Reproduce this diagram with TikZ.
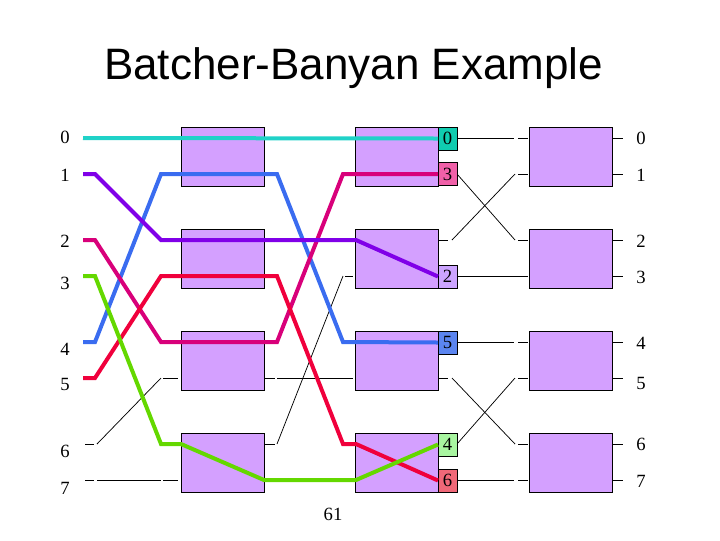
\documentclass[tikz,border=0pt]{standalone}
\usepackage{fontspec}
\setmainfont{Liberation Serif}
\newfontfamily\titlefont{Liberation Sans}
\definecolor{boxfill}{HTML}{D4A0FF}
\definecolor{cyanline}{HTML}{20D2C8}
\definecolor{purpleline}{HTML}{8000E8}
\definecolor{pinkline}{HTML}{D8007A}
\definecolor{greenline}{HTML}{64D800}
\definecolor{blueline}{HTML}{3A6CF0}
\definecolor{redline}{HTML}{F0003C}
\definecolor{labcyan}{HTML}{10CCB0}
\definecolor{labpink}{HTML}{F060A8}
\definecolor{labpurple}{HTML}{CCA4FF}
\definecolor{labblue}{HTML}{5B85F0}
\definecolor{labgreen}{HTML}{A8F5A0}
\definecolor{labred}{HTML}{F06878}
\begin{document}
\begin{tikzpicture}[x=0.75pt,y=-0.75pt,
  swbox/.style={draw=black, line width=0.75pt, fill=boxfill, minimum width=62.25pt, minimum height=44.25pt, inner sep=0pt, outer sep=0pt},
  tag/.style={draw=black, line width=0.75pt, minimum width=14.25pt, minimum height=17.25pt, inner sep=0pt, outer sep=0pt, font=\fontsize{14}{14}\selectfont},
  num/.style={inner sep=0pt, font=\fontsize{14}{14}\selectfont},
  route/.style={line width=3pt},
  wire/.style={line width=0.55pt}]
\useasboundingbox (0,0) rectangle (720,540);

\node[anchor=base, font=\titlefont\fontsize{33}{36}\selectfont] (title) at (353.5,79) {Batcher-Banyan Example};
\node[num] (page) at (333,514) {61};

% switch boxes
\foreach \c/\x in {1/222.5,2/397,3/571}{
  \foreach \r/\y in {1/156.5,2/258.5,3/360.5,4/462.5}{
    \node[swbox] (b\c\r) at (\x,\y) {};
  }
}

% input and output numbers
\foreach \i/\y in {0/137,1/175,2/241,3/283,4/349,5/384,6/451,7/488}{
  \node[num] (in\i) at (65,\y) {\i};
}
\foreach \i/\y in {0/138,1/175,2/241,3/277,4/343,5/383,6/444,7/481}{
  \node[num] (out\i) at (641,\y) {\i};
}

% start points of the coloured routes
\foreach \i/\y in {0/138,1/174,2/240,3/276,4/342,5/378}{
  \coordinate (s\i) at (83,\y);
}

% thin wires, stage 1 inputs
\draw[wire] (85,444) -- (94,444);
\draw[wire] (97,444) -- (161,378);
\draw[wire] (163,378) -- (178,378);
\draw[wire] (85,480) -- (94,480);
\draw[wire] (97,480) -- (161,480);
\draw[wire] (163,480) -- (178,480);
% stage 1 outputs
\draw[wire] (264,378) -- (275,378);
\draw[wire] (277,378) -- (353,378);
\draw[wire] (264,444) -- (275,444);
\draw[wire] (277,444) -- (343,276);
\draw[wire] (345,276) -- (353,276);
% stage 2 outputs
\draw[wire] (457,138) -- (514,138);
\draw[wire] (518,138) -- (528,138);
\draw[wire] (438,240) -- (448,240);
\draw[wire] (452,240) -- (515,174);
\draw[wire] (518,174) -- (528,174);
\draw[wire] (457,174) -- (515,240);
\draw[wire] (518,240) -- (528,240);
\draw[wire] (457,276) -- (528,276);
\draw[wire] (457,342) -- (514,342);
\draw[wire] (518,342) -- (528,342);
\draw[wire] (438,378) -- (448,378);
\draw[wire] (452,378) -- (515,444);
\draw[wire] (518,444) -- (528,444);
\draw[wire] (457,444) -- (515,378);
\draw[wire] (518,378) -- (528,378);
\draw[wire] (457,480) -- (514,480);
\draw[wire] (518,480) -- (528,480);
% stage 3 outputs
\foreach \y in {138,174,240,276,342,378,444,480}{
  \draw[wire] (613,\y) -- (623,\y);
}

% output tags of stage 2
\node[tag, fill=labcyan]   (t0) at (447.5,138.5) {0};
\node[tag, fill=labpink]   (t3) at (447.5,174)   {3};
\node[tag, fill=labpurple] (t2) at (447.5,276.5) {2};
\node[tag, fill=labblue]   (t5) at (447.5,342.5) {5};
\node[tag, fill=labgreen]  (t4) at (447.5,444.5) {4};
\node[tag, fill=labred]    (t6) at (447.5,480.5) {6};

% coloured routes
\draw[route, blueline]   (s4) -- (95,342) -- (161,174) -- (277,174) -- (343,342) -- (t5.west);
\draw[route, pinkline]   (s2) -- (95,240) -- (161,342) -- (277,342) -- (343,174) -- (t3.west);
\draw[route, purpleline] (s1) -- (95,174) -- (161,240) -- (356,240) -- (t2.west);
\draw[route, redline]    (s5) -- (95,378) -- (161,276) -- (277,276) -- (343,444) -- (356,444) -- (t6.west);
\draw[route, greenline]  (s3) -- (95,276) -- (161,444) -- (181,444) -- (264,480) -- (356,480) -- (t4.west);
\draw[route, cyanline]   (s0) -- (t0.west);
\end{tikzpicture}
\end{document}
